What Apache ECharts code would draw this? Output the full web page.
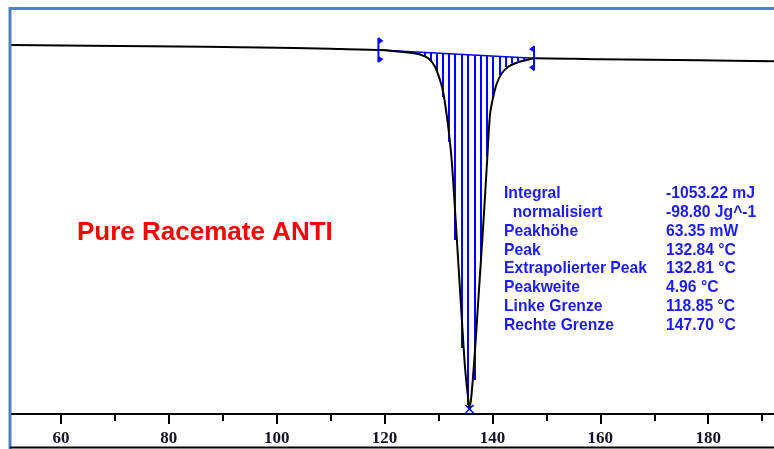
<!DOCTYPE html>
<html>
<head>
<meta charset="utf-8">
<script src="https://cdn.jsdelivr.net/npm/echarts@6/dist/echarts.min.js"></script>
<style>
  html, body { margin: 0; padding: 0; background: #fff; }
  #chart { width: 774px; height: 449px; }
</style>
</head>
<body>
<div id="chart"></div>
<script>
// DSC-Kurve (Temperatur in °C, Wärmestrom in mW, relative Skala)
const curveT = [50.55, 76.50, 96.89, 109.87, 119.14, 124.70, 126.56, 128.09, 129.34, 130.26,
  130.88, 131.51, 131.93, 132.43, 133.05, 133.55, 134.29, 134.90, 135.51, 135.73,
  136.14, 136.76, 137.37, 137.92, 138.46, 139.01, 139.53, 140.09, 140.77, 141.70,
  142.93, 144.48, 146.34, 147.87, 159.92, 178.46, 192.19];
const curveHF = [65.44, 65.21, 64.99, 64.78, 64.55, 64.07, 63.75, 63.08, 61.59, 59.23,
  57.00, 53.00, 49.83, 45.04, 36.18, 28.55, 17.20, 8.33, 2.48, 0.89,
  3.72, 11.35, 20.22, 28.20, 36.18, 45.04, 53.02, 56.04, 58.52, 60.38,
  61.59, 62.30, 62.78, 63.08, 62.90, 62.72, 62.55];

// Integrationsgrenzen (Linke / Rechte Grenze) auf der Basislinie
const limitT = [118.85, 147.70];
const limitHF = [64.55, 63.08];

// Schraffur: Position und unteres Ende jeder Linie
const hatchT = [126.37, 127.48, 128.60, 129.76, 130.87, 131.99, 133.14, 134.29, 135.55, 136.75,
  137.96, 139.07, 140.18, 141.39, 142.59, 143.70, 144.82, 145.93, 146.95];
const hatchEnd = [63.75, 63.49, 62.60, 60.65, 56.23, 48.24, 30.86, 11.70, 1.60, 6.03,
  27.31, 45.58, 56.04, 60.12, 61.54, 62.19, 62.60, 62.83, 63.04];

// Peakminimum
const peakPoint = [135.73, 0.89];

// Achsenbeschriftung
const majorTicks = [60, 80, 100, 120, 140, 160, 180];
const minorTicks = [70, 90, 110, 130, 150, 170, 190];

// Ergebnistabelle
const statLabels = ['Integral', '  normalisiert', 'Peakhöhe', 'Peak', 'Extrapolierter Peak',
  'Peakweite', 'Linke Grenze', 'Rechte Grenze'];
const statValues = ['-1053.22 mJ', '-98.80 Jg^-1', '63.35 mW', '132.84 °C', '132.81 °C',
  '4.96 °C', '118.85 °C', '147.70 °C'];

const sampleName = 'Pure Racemate ANTI';

const BLUE = '#0000ff';
const chart = echarts.init(document.getElementById('chart'));

// Basislinie zwischen den Grenzen
const baseAt = (t) =>
  limitHF[0] + (t - limitT[0]) * (limitHF[1] - limitHF[0]) / (limitT[1] - limitT[0]);

const statFont = 'bold 15.7px "Liberation Sans", Arial, sans-serif';
const textEls = [];
statLabels.forEach((s, i) => {
  textEls.push({
    type: 'text', left: 504, top: 186 + i * 18.77,
    style: { text: s, font: statFont, fill: '#1c1cf0' }
  });
  textEls.push({
    type: 'text', left: 666, top: 186 + i * 18.77,
    style: { text: statValues[i], font: statFont, fill: '#1c1cf0' }
  });
});

const option = {
  animation: false,
  backgroundColor: '#fff',
  grid: { left: 10, right: 0, top: 8, bottom: 35 },
  xAxis: [
    {
      type: 'value', min: 50.545, max: 192.19, position: 'bottom',
      axisLine: { lineStyle: { color: '#000', width: 2 } },
      axisTick: { customValues: majorTicks, length: 10, lineStyle: { color: '#000', width: 2 } },
      axisLabel: {
        customValues: majorTicks, margin: 16, color: '#141428',
        fontFamily: '"Liberation Serif", serif', fontWeight: 'bold', fontSize: 17
      },
      splitLine: { show: false }
    },
    {
      type: 'value', min: 50.545, max: 192.19, position: 'bottom',
      axisLine: { show: false },
      axisTick: { customValues: minorTicks, length: 7, lineStyle: { color: '#000', width: 2 } },
      axisLabel: { show: false },
      splitLine: { show: false }
    }
  ],
  yAxis: { type: 'value', min: 0, max: 72, show: false },
  series: [
    {
      type: 'custom',
      data: hatchT.map((t, i) => [t, hatchEnd[i]]),
      renderItem: (params, api) => {
        const t = api.value(0);
        const p1 = api.coord([t, baseAt(t)]);
        const p2 = api.coord([t, api.value(1)]);
        const x = Math.round(p1[0]);
        return {
          type: 'line',
          shape: { x1: x, y1: p1[1], x2: x, y2: p2[1] },
          style: { stroke: BLUE, lineWidth: 2 }
        };
      },
      z: 2
    },
    {
      type: 'line',
      data: limitT.map((t, i) => [t, limitHF[i]]),
      symbol: 'none',
      lineStyle: { color: BLUE, width: 1.5 },
      z: 3
    },
    {
      type: 'line',
      data: curveT.map((t, i) => [t, curveHF[i]]),
      symbol: 'none',
      smooth: 0.3,
      lineStyle: { color: '#000', width: 2 },
      z: 4
    },
    {
      // Grenzmarkierungen
      type: 'custom',
      data: limitT.map((t, i) => [t, limitHF[i], i === 0 ? 1 : -1]),
      renderItem: (params, api) => {
        const p = api.coord([api.value(0), api.value(1)]);
        const d = api.value(2);
        const x = p[0], y = p[1];
        return {
          type: 'group',
          children: [
            { type: 'line', shape: { x1: x, y1: y - 12, x2: x, y2: y + 12 }, style: { stroke: BLUE, lineWidth: 2 } },
            { type: 'polygon', shape: { points: [[x, y - 13], [x + d * 5, y - 9], [x, y - 6]] }, style: { fill: BLUE } },
            { type: 'polygon', shape: { points: [[x, y + 13], [x + d * 5, y + 9], [x, y + 6]] }, style: { fill: BLUE } }
          ]
        };
      },
      z: 5
    },
    {
      // Peakmarkierung
      type: 'custom',
      data: [peakPoint],
      renderItem: (params, api) => {
        const p = api.coord([api.value(0), api.value(1)]);
        const s = 4;
        return {
          type: 'group',
          children: [
            { type: 'line', shape: { x1: p[0] - s, y1: p[1] - s, x2: p[0] + s, y2: p[1] + s }, style: { stroke: BLUE, lineWidth: 1.5 } },
            { type: 'line', shape: { x1: p[0] - s, y1: p[1] + s, x2: p[0] + s, y2: p[1] - s }, style: { stroke: BLUE, lineWidth: 1.5 } }
          ]
        };
      },
      z: 5
    }
  ],
  graphic: [
    // Rahmen oben/links und untere Linie
    { type: 'line', shape: { x1: 10, y1: 8.5, x2: 774, y2: 8.5 }, style: { stroke: '#4f81bd', lineWidth: 3 }, z: 10 },
    { type: 'line', shape: { x1: 10, y1: 7, x2: 10, y2: 449 }, style: { stroke: '#4f81bd', lineWidth: 3 }, z: 10 },
    { type: 'line', shape: { x1: 10, y1: 447.5, x2: 774, y2: 447.5 }, style: { stroke: '#000', lineWidth: 2 }, z: 10 },
    {
      type: 'text', left: 77, top: 220,
      style: { text: sampleName, font: 'bold 26px "Liberation Sans", Arial, sans-serif', fill: '#ff0000' }
    },
    ...textEls
  ]
};

chart.setOption(option);
</script>
</body>
</html>
